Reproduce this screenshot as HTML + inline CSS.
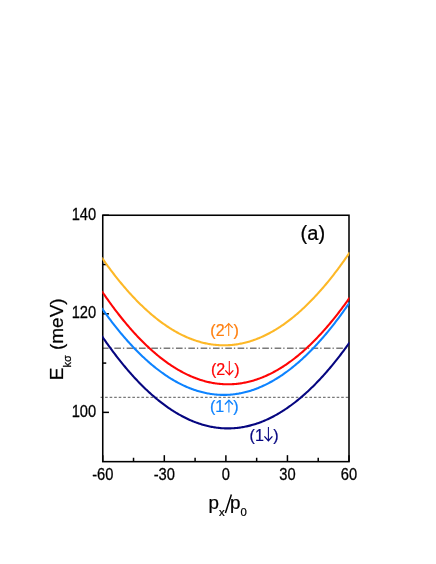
<!DOCTYPE html>
<html><head><meta charset="utf-8"><title>chart</title>
<style>
html,body{margin:0;padding:0;background:#fff;}
body{width:436px;height:564px;overflow:hidden;}
svg{display:block;will-change:transform;}
text{font-family:"Liberation Sans",sans-serif;stroke-width:0.24px;paint-order:stroke;}
</style></head><body>
<svg width="436" height="564" viewBox="0 0 436 564">
<rect x="0" y="0" width="436" height="564" fill="#ffffff"/>

<line x1="102.0" y1="348.25" x2="349.0" y2="348.25" stroke="#7a7a7a" stroke-width="1.3" stroke-dasharray="6.6,2.0,1.3,2.43"/>
<line x1="100.56" y1="397.45" x2="349.0" y2="397.45" stroke="#7a7a7a" stroke-width="1.3" stroke-dasharray="2.6,1.94"/>
<g stroke="#000" stroke-width="1.5">
<line x1="102.75" y1="461.65" x2="102.75" y2="455.15"/>
<line x1="164.31" y1="461.65" x2="164.31" y2="455.15"/>
<line x1="225.88" y1="461.65" x2="225.88" y2="455.15"/>
<line x1="287.44" y1="461.65" x2="287.44" y2="455.15"/>
<line x1="349.00" y1="461.65" x2="349.00" y2="455.15"/>
<line x1="133.53" y1="461.65" x2="133.53" y2="457.75"/>
<line x1="195.09" y1="461.65" x2="195.09" y2="457.75"/>
<line x1="256.66" y1="461.65" x2="256.66" y2="457.75"/>
<line x1="318.22" y1="461.65" x2="318.22" y2="457.75"/>
<line x1="102.75" y1="412.37" x2="108.95" y2="412.37"/>
<line x1="102.75" y1="313.81" x2="108.95" y2="313.81"/>
<line x1="102.75" y1="215.25" x2="108.95" y2="215.25"/>
<line x1="102.75" y1="363.09" x2="106.25" y2="363.09"/>
<line x1="102.75" y1="264.53" x2="106.25" y2="264.53"/>
</g>
<rect x="102.75" y="215.25" width="246.25" height="246.39999999999998" fill="none" stroke="#000" stroke-width="1.55"/>
<clipPath id="c"><rect x="102.3" y="215.25" width="247.1" height="246.39999999999998"/></clipPath>
<g clip-path="url(#c)" fill="none" stroke-width="2.1" stroke-linejoin="round">
<path d="M101.75,257.62 L102.75,259.04 L103.75,260.46 L104.75,261.87 L105.75,263.26 L106.75,264.64 L107.75,266.01 L108.75,267.37 L109.75,268.72 L110.75,270.05 L111.75,271.38 L112.75,272.69 L113.75,273.99 L114.75,275.28 L115.75,276.55 L116.75,277.82 L117.75,279.07 L118.75,280.31 L119.75,281.54 L120.75,282.76 L121.75,283.97 L122.75,285.16 L123.75,286.34 L124.75,287.51 L125.75,288.67 L126.75,289.82 L127.75,290.96 L128.75,292.08 L129.75,293.19 L130.75,294.29 L131.75,295.38 L132.75,296.46 L133.75,297.52 L134.75,298.58 L135.75,299.62 L136.75,300.65 L137.75,301.67 L138.75,302.67 L139.75,303.67 L140.75,304.65 L141.75,305.62 L142.75,306.58 L143.75,307.53 L144.75,308.47 L145.75,309.39 L146.75,310.30 L147.75,311.20 L148.75,312.09 L149.75,312.97 L150.75,313.83 L151.75,314.69 L152.75,315.53 L153.75,316.36 L154.75,317.18 L155.75,317.99 L156.75,318.78 L157.75,319.56 L158.75,320.34 L159.75,321.10 L160.75,321.84 L161.75,322.58 L162.75,323.30 L163.75,324.02 L164.75,324.72 L165.75,325.41 L166.75,326.09 L167.75,326.75 L168.75,327.41 L169.75,328.05 L170.75,328.68 L171.75,329.30 L172.75,329.90 L173.75,330.50 L174.75,331.08 L175.75,331.66 L176.75,332.22 L177.75,332.76 L178.75,333.30 L179.75,333.83 L180.75,334.34 L181.75,334.84 L182.75,335.33 L183.75,335.81 L184.75,336.27 L185.75,336.73 L186.75,337.17 L187.75,337.60 L188.75,338.02 L189.75,338.43 L190.75,338.83 L191.75,339.21 L192.75,339.58 L193.75,339.94 L194.75,340.29 L195.75,340.63 L196.75,340.95 L197.75,341.27 L198.75,341.57 L199.75,341.86 L200.75,342.14 L201.75,342.40 L202.75,342.66 L203.75,342.90 L204.75,343.13 L205.75,343.35 L206.75,343.56 L207.75,343.76 L208.75,343.94 L209.75,344.11 L210.75,344.28 L211.75,344.43 L212.75,344.56 L213.75,344.69 L214.75,344.80 L215.75,344.90 L216.75,345.00 L217.75,345.07 L218.75,345.14 L219.75,345.20 L220.75,345.24 L221.75,345.27 L222.75,345.29 L223.75,345.30 L224.75,345.30 L225.75,345.28 L226.75,345.25 L227.75,345.22 L228.75,345.17 L229.75,345.10 L230.75,345.03 L231.75,344.94 L232.75,344.85 L233.75,344.74 L234.75,344.62 L235.75,344.48 L236.75,344.34 L237.75,344.18 L238.75,344.02 L239.75,343.84 L240.75,343.64 L241.75,343.44 L242.75,343.23 L243.75,343.00 L244.75,342.76 L245.75,342.51 L246.75,342.25 L247.75,341.98 L248.75,341.69 L249.75,341.39 L250.75,341.09 L251.75,340.76 L252.75,340.43 L253.75,340.09 L254.75,339.73 L255.75,339.37 L256.75,338.99 L257.75,338.60 L258.75,338.19 L259.75,337.78 L260.75,337.35 L261.75,336.91 L262.75,336.46 L263.75,336.00 L264.75,335.53 L265.75,335.05 L266.75,334.55 L267.75,334.04 L268.75,333.52 L269.75,332.99 L270.75,332.44 L271.75,331.89 L272.75,331.32 L273.75,330.74 L274.75,330.15 L275.75,329.55 L276.75,328.94 L277.75,328.31 L278.75,327.67 L279.75,327.02 L280.75,326.36 L281.75,325.69 L282.75,325.01 L283.75,324.31 L284.75,323.60 L285.75,322.88 L286.75,322.15 L287.75,321.41 L288.75,320.65 L289.75,319.89 L290.75,319.11 L291.75,318.32 L292.75,317.52 L293.75,316.70 L294.75,315.88 L295.75,315.04 L296.75,314.19 L297.75,313.33 L298.75,312.46 L299.75,311.57 L300.75,310.68 L301.75,309.77 L302.75,308.85 L303.75,307.92 L304.75,306.98 L305.75,306.02 L306.75,305.06 L307.75,304.08 L308.75,303.09 L309.75,302.09 L310.75,301.07 L311.75,300.05 L312.75,299.01 L313.75,297.96 L314.75,296.90 L315.75,295.83 L316.75,294.75 L317.75,293.65 L318.75,292.54 L319.75,291.42 L320.75,290.29 L321.75,289.15 L322.75,288.00 L323.75,286.83 L324.75,285.65 L325.75,284.46 L326.75,283.26 L327.75,282.05 L328.75,280.83 L329.75,279.59 L330.75,278.34 L331.75,277.08 L332.75,275.81 L333.75,274.53 L334.75,273.23 L335.75,271.92 L336.75,270.61 L337.75,269.28 L338.75,267.93 L339.75,266.58 L340.75,265.21 L341.75,263.84 L342.75,262.45 L343.75,261.05 L344.75,259.63 L345.75,258.21 L346.75,256.77 L347.75,255.33 L348.75,253.87 L349.75,252.40" stroke="#fdb827"/>
<path d="M101.75,291.06 L102.75,292.53 L103.75,293.99 L104.75,295.44 L105.75,296.88 L106.75,298.30 L107.75,299.72 L108.75,301.12 L109.75,302.51 L110.75,303.88 L111.75,305.25 L112.75,306.60 L113.75,307.95 L114.75,309.28 L115.75,310.60 L116.75,311.90 L117.75,313.20 L118.75,314.48 L119.75,315.76 L120.75,317.02 L121.75,318.27 L122.75,319.50 L123.75,320.73 L124.75,321.94 L125.75,323.15 L126.75,324.34 L127.75,325.52 L128.75,326.68 L129.75,327.84 L130.75,328.98 L131.75,330.11 L132.75,331.23 L133.75,332.34 L134.75,333.44 L135.75,334.53 L136.75,335.60 L137.75,336.66 L138.75,337.71 L139.75,338.75 L140.75,339.78 L141.75,340.79 L142.75,341.79 L143.75,342.79 L144.75,343.77 L145.75,344.73 L146.75,345.69 L147.75,346.63 L148.75,347.57 L149.75,348.49 L150.75,349.40 L151.75,350.30 L152.75,351.18 L153.75,352.06 L154.75,352.92 L155.75,353.77 L156.75,354.61 L157.75,355.44 L158.75,356.26 L159.75,357.06 L160.75,357.85 L161.75,358.63 L162.75,359.40 L163.75,360.16 L164.75,360.91 L165.75,361.64 L166.75,362.36 L167.75,363.07 L168.75,363.77 L169.75,364.46 L170.75,365.13 L171.75,365.80 L172.75,366.45 L173.75,367.09 L174.75,367.72 L175.75,368.34 L176.75,368.94 L177.75,369.54 L178.75,370.12 L179.75,370.69 L180.75,371.25 L181.75,371.79 L182.75,372.33 L183.75,372.85 L184.75,373.36 L185.75,373.86 L186.75,374.35 L187.75,374.83 L188.75,375.29 L189.75,375.75 L190.75,376.19 L191.75,376.62 L192.75,377.04 L193.75,377.44 L194.75,377.84 L195.75,378.22 L196.75,378.59 L197.75,378.95 L198.75,379.30 L199.75,379.64 L200.75,379.96 L201.75,380.27 L202.75,380.58 L203.75,380.86 L204.75,381.14 L205.75,381.41 L206.75,381.66 L207.75,381.91 L208.75,382.14 L209.75,382.36 L210.75,382.56 L211.75,382.76 L212.75,382.94 L213.75,383.12 L214.75,383.28 L215.75,383.42 L216.75,383.56 L217.75,383.69 L218.75,383.80 L219.75,383.90 L220.75,383.99 L221.75,384.07 L222.75,384.14 L223.75,384.20 L224.75,384.24 L225.75,384.27 L226.75,384.29 L227.75,384.30 L228.75,384.30 L229.75,384.28 L230.75,384.26 L231.75,384.22 L232.75,384.17 L233.75,384.11 L234.75,384.03 L235.75,383.95 L236.75,383.85 L237.75,383.74 L238.75,383.62 L239.75,383.49 L240.75,383.35 L241.75,383.19 L242.75,383.02 L243.75,382.84 L244.75,382.65 L245.75,382.45 L246.75,382.24 L247.75,382.01 L248.75,381.78 L249.75,381.53 L250.75,381.27 L251.75,380.99 L252.75,380.71 L253.75,380.41 L254.75,380.11 L255.75,379.79 L256.75,379.46 L257.75,379.11 L258.75,378.76 L259.75,378.39 L260.75,378.02 L261.75,377.63 L262.75,377.23 L263.75,376.81 L264.75,376.39 L265.75,375.95 L266.75,375.50 L267.75,375.04 L268.75,374.57 L269.75,374.09 L270.75,373.60 L271.75,373.09 L272.75,372.57 L273.75,372.04 L274.75,371.50 L275.75,370.95 L276.75,370.38 L277.75,369.81 L278.75,369.22 L279.75,368.62 L280.75,368.01 L281.75,367.38 L282.75,366.75 L283.75,366.10 L284.75,365.44 L285.75,364.77 L286.75,364.09 L287.75,363.40 L288.75,362.69 L289.75,361.97 L290.75,361.24 L291.75,360.50 L292.75,359.75 L293.75,358.99 L294.75,358.21 L295.75,357.43 L296.75,356.63 L297.75,355.82 L298.75,354.99 L299.75,354.16 L300.75,353.31 L301.75,352.46 L302.75,351.59 L303.75,350.71 L304.75,349.81 L305.75,348.91 L306.75,347.99 L307.75,347.07 L308.75,346.13 L309.75,345.17 L310.75,344.21 L311.75,343.24 L312.75,342.25 L313.75,341.25 L314.75,340.24 L315.75,339.22 L316.75,338.19 L317.75,337.14 L318.75,336.09 L319.75,335.02 L320.75,333.94 L321.75,332.85 L322.75,331.75 L323.75,330.63 L324.75,329.50 L325.75,328.37 L326.75,327.22 L327.75,326.05 L328.75,324.88 L329.75,323.70 L330.75,322.50 L331.75,321.29 L332.75,320.07 L333.75,318.84 L334.75,317.59 L335.75,316.34 L336.75,315.07 L337.75,313.79 L338.75,312.50 L339.75,311.20 L340.75,309.89 L341.75,308.56 L342.75,307.22 L343.75,305.87 L344.75,304.51 L345.75,303.14 L346.75,301.76 L347.75,300.36 L348.75,298.95 L349.75,297.53" stroke="#ff0505"/>
<path d="M101.75,308.13 L102.75,309.55 L103.75,310.95 L104.75,312.35 L105.75,313.73 L106.75,315.10 L107.75,316.46 L108.75,317.80 L109.75,319.14 L110.75,320.46 L111.75,321.77 L112.75,323.07 L113.75,324.36 L114.75,325.64 L115.75,326.90 L116.75,328.16 L117.75,329.40 L118.75,330.63 L119.75,331.85 L120.75,333.06 L121.75,334.25 L122.75,335.43 L123.75,336.61 L124.75,337.77 L125.75,338.92 L126.75,340.05 L127.75,341.18 L128.75,342.29 L129.75,343.39 L130.75,344.48 L131.75,345.56 L132.75,346.63 L133.75,347.68 L134.75,348.73 L135.75,349.76 L136.75,350.78 L137.75,351.79 L138.75,352.79 L139.75,353.77 L140.75,354.74 L141.75,355.71 L142.75,356.66 L143.75,357.59 L144.75,358.52 L145.75,359.44 L146.75,360.34 L147.75,361.23 L148.75,362.11 L149.75,362.98 L150.75,363.84 L151.75,364.68 L152.75,365.52 L153.75,366.34 L154.75,367.15 L155.75,367.95 L156.75,368.74 L157.75,369.51 L158.75,370.28 L159.75,371.03 L160.75,371.77 L161.75,372.50 L162.75,373.21 L163.75,373.92 L164.75,374.61 L165.75,375.29 L166.75,375.96 L167.75,376.62 L168.75,377.27 L169.75,377.91 L170.75,378.53 L171.75,379.14 L172.75,379.74 L173.75,380.33 L174.75,380.91 L175.75,381.47 L176.75,382.03 L177.75,382.57 L178.75,383.10 L179.75,383.62 L180.75,384.13 L181.75,384.62 L182.75,385.11 L183.75,385.58 L184.75,386.04 L185.75,386.49 L186.75,386.92 L187.75,387.35 L188.75,387.76 L189.75,388.17 L190.75,388.56 L191.75,388.93 L192.75,389.30 L193.75,389.66 L194.75,390.00 L195.75,390.33 L196.75,390.65 L197.75,390.96 L198.75,391.26 L199.75,391.55 L200.75,391.82 L201.75,392.08 L202.75,392.33 L203.75,392.57 L204.75,392.80 L205.75,393.01 L206.75,393.22 L207.75,393.41 L208.75,393.59 L209.75,393.76 L210.75,393.92 L211.75,394.06 L212.75,394.20 L213.75,394.32 L214.75,394.43 L215.75,394.53 L216.75,394.62 L217.75,394.69 L218.75,394.76 L219.75,394.81 L220.75,394.85 L221.75,394.88 L222.75,394.89 L223.75,394.90 L224.75,394.89 L225.75,394.88 L226.75,394.85 L227.75,394.81 L228.75,394.75 L229.75,394.69 L230.75,394.61 L231.75,394.53 L232.75,394.43 L233.75,394.32 L234.75,394.19 L235.75,394.06 L236.75,393.91 L237.75,393.75 L238.75,393.59 L239.75,393.40 L240.75,393.21 L241.75,393.01 L242.75,392.79 L243.75,392.56 L244.75,392.32 L245.75,392.07 L246.75,391.81 L247.75,391.54 L248.75,391.25 L249.75,390.95 L250.75,390.64 L251.75,390.32 L252.75,389.99 L253.75,389.65 L254.75,389.29 L255.75,388.92 L256.75,388.54 L257.75,388.15 L258.75,387.75 L259.75,387.34 L260.75,386.91 L261.75,386.47 L262.75,386.02 L263.75,385.56 L264.75,385.09 L265.75,384.61 L266.75,384.11 L267.75,383.60 L268.75,383.08 L269.75,382.55 L270.75,382.01 L271.75,381.46 L272.75,380.89 L273.75,380.31 L274.75,379.72 L275.75,379.12 L276.75,378.51 L277.75,377.89 L278.75,377.25 L279.75,376.60 L280.75,375.94 L281.75,375.27 L282.75,374.59 L283.75,373.90 L284.75,373.19 L285.75,372.47 L286.75,371.74 L287.75,371.00 L288.75,370.25 L289.75,369.49 L290.75,368.71 L291.75,367.92 L292.75,367.13 L293.75,366.31 L294.75,365.49 L295.75,364.66 L296.75,363.81 L297.75,362.95 L298.75,362.09 L299.75,361.21 L300.75,360.31 L301.75,359.41 L302.75,358.49 L303.75,357.57 L304.75,356.63 L305.75,355.68 L306.75,354.71 L307.75,353.74 L308.75,352.75 L309.75,351.76 L310.75,350.75 L311.75,349.73 L312.75,348.69 L313.75,347.65 L314.75,346.60 L315.75,345.53 L316.75,344.45 L317.75,343.36 L318.75,342.26 L319.75,341.14 L320.75,340.02 L321.75,338.88 L322.75,337.73 L323.75,336.57 L324.75,335.40 L325.75,334.21 L326.75,333.02 L327.75,331.81 L328.75,330.59 L329.75,329.36 L330.75,328.12 L331.75,326.87 L332.75,325.60 L333.75,324.32 L334.75,323.03 L335.75,321.73 L336.75,320.42 L337.75,319.10 L338.75,317.76 L339.75,316.41 L340.75,315.06 L341.75,313.68 L342.75,312.30 L343.75,310.91 L344.75,309.50 L345.75,308.09 L346.75,306.66 L347.75,305.22 L348.75,303.76 L349.75,302.30" stroke="#0d83ff"/>
<path d="M101.75,335.88 L102.75,337.34 L103.75,338.79 L104.75,340.22 L105.75,341.65 L106.75,343.06 L107.75,344.46 L108.75,345.86 L109.75,347.23 L110.75,348.60 L111.75,349.96 L112.75,351.30 L113.75,352.63 L114.75,353.96 L115.75,355.26 L116.75,356.56 L117.75,357.85 L118.75,359.12 L119.75,360.39 L120.75,361.64 L121.75,362.88 L122.75,364.10 L123.75,365.32 L124.75,366.53 L125.75,367.72 L126.75,368.90 L127.75,370.07 L128.75,371.23 L129.75,372.38 L130.75,373.51 L131.75,374.63 L132.75,375.75 L133.75,376.85 L134.75,377.94 L135.75,379.01 L136.75,380.08 L137.75,381.13 L138.75,382.17 L139.75,383.20 L140.75,384.22 L141.75,385.23 L142.75,386.23 L143.75,387.21 L144.75,388.18 L145.75,389.14 L146.75,390.09 L147.75,391.03 L148.75,391.96 L149.75,392.87 L150.75,393.77 L151.75,394.66 L152.75,395.54 L153.75,396.41 L154.75,397.27 L155.75,398.11 L156.75,398.95 L157.75,399.77 L158.75,400.58 L159.75,401.38 L160.75,402.16 L161.75,402.94 L162.75,403.70 L163.75,404.45 L164.75,405.19 L165.75,405.92 L166.75,406.64 L167.75,407.34 L168.75,408.04 L169.75,408.72 L170.75,409.39 L171.75,410.05 L172.75,410.69 L173.75,411.33 L174.75,411.95 L175.75,412.57 L176.75,413.17 L177.75,413.76 L178.75,414.33 L179.75,414.90 L180.75,415.45 L181.75,416.00 L182.75,416.53 L183.75,417.05 L184.75,417.56 L185.75,418.05 L186.75,418.54 L187.75,419.01 L188.75,419.47 L189.75,419.92 L190.75,420.36 L191.75,420.78 L192.75,421.20 L193.75,421.60 L194.75,421.99 L195.75,422.37 L196.75,422.74 L197.75,423.10 L198.75,423.44 L199.75,423.78 L200.75,424.10 L201.75,424.41 L202.75,424.71 L203.75,425.00 L204.75,425.27 L205.75,425.53 L206.75,425.79 L207.75,426.03 L208.75,426.26 L209.75,426.47 L210.75,426.68 L211.75,426.87 L212.75,427.06 L213.75,427.23 L214.75,427.39 L215.75,427.53 L216.75,427.67 L217.75,427.79 L218.75,427.91 L219.75,428.01 L220.75,428.10 L221.75,428.18 L222.75,428.24 L223.75,428.30 L224.75,428.34 L225.75,428.37 L226.75,428.39 L227.75,428.40 L228.75,428.40 L229.75,428.38 L230.75,428.35 L231.75,428.32 L232.75,428.27 L233.75,428.21 L234.75,428.13 L235.75,428.05 L236.75,427.95 L237.75,427.84 L238.75,427.72 L239.75,427.59 L240.75,427.45 L241.75,427.30 L242.75,427.13 L243.75,426.95 L244.75,426.76 L245.75,426.56 L246.75,426.35 L247.75,426.13 L248.75,425.89 L249.75,425.64 L250.75,425.38 L251.75,425.11 L252.75,424.83 L253.75,424.54 L254.75,424.23 L255.75,423.91 L256.75,423.59 L257.75,423.25 L258.75,422.89 L259.75,422.53 L260.75,422.15 L261.75,421.77 L262.75,421.37 L263.75,420.96 L264.75,420.54 L265.75,420.10 L266.75,419.66 L267.75,419.20 L268.75,418.74 L269.75,418.26 L270.75,417.76 L271.75,417.26 L272.75,416.75 L273.75,416.22 L274.75,415.68 L275.75,415.13 L276.75,414.57 L277.75,414.00 L278.75,413.42 L279.75,412.82 L280.75,412.21 L281.75,411.59 L282.75,410.96 L283.75,410.32 L284.75,409.67 L285.75,409.00 L286.75,408.32 L287.75,407.63 L288.75,406.93 L289.75,406.22 L290.75,405.50 L291.75,404.76 L292.75,404.02 L293.75,403.26 L294.75,402.49 L295.75,401.71 L296.75,400.91 L297.75,400.11 L298.75,399.29 L299.75,398.46 L300.75,397.62 L301.75,396.77 L302.75,395.91 L303.75,395.03 L304.75,394.15 L305.75,393.25 L306.75,392.34 L307.75,391.42 L308.75,390.49 L309.75,389.54 L310.75,388.59 L311.75,387.62 L312.75,386.64 L313.75,385.65 L314.75,384.65 L315.75,383.63 L316.75,382.61 L317.75,381.57 L318.75,380.52 L319.75,379.46 L320.75,378.39 L321.75,377.30 L322.75,376.21 L323.75,375.10 L324.75,373.98 L325.75,372.85 L326.75,371.71 L327.75,370.56 L328.75,369.39 L329.75,368.22 L330.75,367.03 L331.75,365.83 L332.75,364.62 L333.75,363.39 L334.75,362.16 L335.75,360.91 L336.75,359.65 L337.75,358.38 L338.75,357.10 L339.75,355.81 L340.75,354.51 L341.75,353.19 L342.75,351.86 L343.75,350.52 L344.75,349.17 L345.75,347.81 L346.75,346.43 L347.75,345.05 L348.75,343.65 L349.75,342.24" stroke="#060680"/>
</g>
<g font-size="14.7" fill="#000" stroke="#000">
<text transform="translate(102.75,479.5) scale(1,1.07)" text-anchor="middle">-60</text>
<text transform="translate(164.31,479.5) scale(1,1.07)" text-anchor="middle">-30</text>
<text transform="translate(225.88,479.5) scale(1,1.07)" text-anchor="middle">0</text>
<text transform="translate(287.44,479.5) scale(1,1.07)" text-anchor="middle">30</text>
<text transform="translate(349.00,479.5) scale(1,1.07)" text-anchor="middle">60</text>
<text transform="translate(96.2,416.77) scale(1,1.07)" text-anchor="end">100</text>
<text transform="translate(96.2,318.21) scale(1,1.07)" text-anchor="end">120</text>
<text transform="translate(96.2,219.65) scale(1,1.07)" text-anchor="end">140</text>
</g>
<text x="208.6" y="508.6" font-size="18.8" fill="#000" stroke="#000">p<tspan font-size="11.3" dy="7.7">x</tspan><tspan dy="-7.7" dx="5.4">p</tspan><tspan font-size="11.3" dy="7.7">0</tspan></text>
<line x1="225.4" y1="513.0" x2="231.4" y2="494.6" stroke="#000" stroke-width="1.5"/>
<text transform="translate(63.1,380.3) rotate(-90)" font-size="19" fill="#000" stroke="#000">E<tspan font-size="11" dy="8.2">kσ</tspan><tspan dy="-8.2"> (meV)</tspan></text>
<text x="300.6" y="239.8" font-size="20" fill="#000" stroke="#000">(a)</text>
<g fill="#ff7f0e" stroke="none"><text x="210.3" y="335.7" font-size="16" stroke="#ff7f0e">(2</text><path d="M228.70,336.00 V324.00" stroke="#ff7f0e" stroke-width="1.05" fill="none"/><path d="M224.70,327.90 L228.70,323.60 L232.70,327.90" stroke="#ff7f0e" stroke-width="1.3" fill="none" stroke-linejoin="miter"/><text x="233.60000000000002" y="335.7" font-size="16" stroke="#ff7f0e">)</text></g>
<g fill="#ff0505" stroke="none"><text x="210.9" y="375.1" font-size="16" stroke="#ff0505">(2</text><path d="M229.30,361.00 V374.30" stroke="#ff0505" stroke-width="1.05" fill="none"/><path d="M225.30,370.40 L229.30,374.70 L233.30,370.40" stroke="#ff0505" stroke-width="1.3" fill="none" stroke-linejoin="miter"/><text x="234.20000000000002" y="375.1" font-size="16" stroke="#ff0505">)</text></g>
<g fill="#0d83ff" stroke="none"><text x="209.9" y="412.3" font-size="16" stroke="#0d83ff">(1</text><path d="M228.90,412.60 V400.60" stroke="#0d83ff" stroke-width="1.05" fill="none"/><path d="M224.90,404.50 L228.90,400.20 L232.90,404.50" stroke="#0d83ff" stroke-width="1.3" fill="none" stroke-linejoin="miter"/><text x="233.20000000000002" y="412.3" font-size="16" stroke="#0d83ff">)</text></g>
<g fill="#060680" stroke="none"><text x="249.6" y="441.1" font-size="16" stroke="#060680">(1</text><path d="M268.40,427.00 V440.30" stroke="#060680" stroke-width="1.05" fill="none"/><path d="M264.40,436.40 L268.40,440.70 L272.40,436.40" stroke="#060680" stroke-width="1.3" fill="none" stroke-linejoin="miter"/><text x="273.3" y="441.1" font-size="16" stroke="#060680">)</text></g>
</svg></body></html>
